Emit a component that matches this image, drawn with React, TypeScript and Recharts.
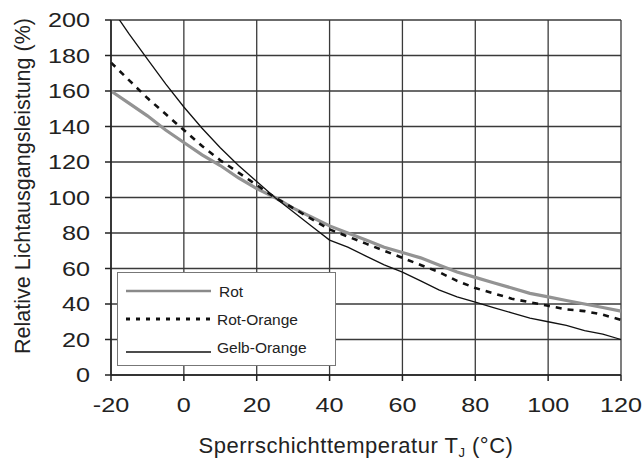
import React from "react";
import { LineChart, Line, XAxis, YAxis, CartesianGrid, Label } from "recharts";

const temps = [-20, -15, -10, -5, 0, 5, 10, 15, 20, 25, 30, 35, 40, 45, 50, 55, 60, 65, 70, 75, 80, 85, 90, 95, 100, 105, 110, 115, 120];
const rot = [160, 153, 146, 138, 131, 124, 118, 111, 105, 100, 94, 89, 84, 80, 76, 72, 69, 66, 62, 58, 55, 52, 49, 46, 44, 42, 40, 38, 36];
const rotOrange = [176, 166, 156, 147, 138, 129, 121, 114, 107, 100, 94, 88, 82, 78, 74, 70, 66, 62, 58, 53, 49, 46, 43, 41, 39, 37, 36, 34, 31];
const gelbOrange = [207, 192, 178, 164, 151, 139, 128, 118, 109, 100, 92, 84, 76, 72, 67, 62, 58, 53, 48, 44, 41, 38, 35, 32, 30, 28, 25, 23, 20];
const xTicks = [-20, 0, 20, 40, 60, 80, 100, 120];
const yTicks = [0, 20, 40, 60, 80, 100, 120, 140, 160, 180, 200];

const data = temps.map((t, i) => ({ t, rot: rot[i], rotOrange: rotOrange[i], gelbOrange: gelbOrange[i] }));

const font = "'Liberation Sans', Arial, sans-serif";
const ink = "#222";

// tick digits in the original are a bit wider than plain Arial
const XTick = ({ x, y, payload }: any) => (
  <g transform={`translate(${x},${y}) scale(1.2,1)`}>
    <text x={0} y={0} dy="0.71em" textAnchor="middle" fontFamily={font} fontSize={21} fill={ink}>
      {payload.value}
    </text>
  </g>
);

const YTick = ({ x, y, payload }: any) => (
  <g transform={`translate(${x},${y}) scale(1.2,1)`}>
    <text x={0} y={0} dy="0.355em" textAnchor="end" fontFamily={font} fontSize={21} fill={ink}>
      {payload.value}
    </text>
  </g>
);

const legendItems = [
  { name: "Rot", stroke: "#8a8a8a", w: 2.5, dash: undefined, y: 19, ty: 19 },
  { name: "Rot-Orange", stroke: "#111", w: 3, dash: "4 6", y: 47, ty: 47 },
  { name: "Gelb-Orange", stroke: "#111", w: 1.3, dash: undefined, y: 80, ty: 75 },
];

// legend box drawn over the plot, like the original
const LegendBox = () => (
  <svg width={220} height={96} style={{ position: "absolute", left: 117, top: 272 }}>
    <rect x={0.5} y={0.5} width={218} height={93} fill="#fff" stroke="#777" strokeWidth={1} />
    {legendItems.map((e) => (
      <g key={e.name}>
        <line x1={9} x2={94} y1={e.y} y2={e.y} stroke={e.stroke} strokeWidth={e.w} strokeDasharray={e.dash} />
        <text x={e.name === "Rot" ? 102 : 100} y={e.ty} dy="0.36em" fontFamily={font} fontSize={15.5} fill={ink}>
          {e.name}
        </text>
      </g>
    ))}
  </svg>
);

const XTitle = ({ viewBox }: any) => {
  const cx = viewBox.x + viewBox.width / 2 - 10;
  return (
    <text x={cx} y={453} textAnchor="middle" fontFamily={font} fontSize={22} letterSpacing={0.5} fill={ink}>
      Sperrschichttemperatur T
      <tspan fontSize={13} dy={4}>J</tspan>
      <tspan dy={-4}> (°C)</tspan>
    </text>
  );
};

const YTitle = () => (
  <text
    x={0}
    y={0}
    transform="translate(30, 186) rotate(-90)"
    textAnchor="middle"
    fontFamily={font}
    fontSize={21.5}
    fill={ink}
  >
    Relative Lichtausgangsleistung (%)
  </text>
);

export default function App() {
  return (
    <div style={{ position: "absolute", left: 0, top: 0, width: 644, height: 463, background: "#fff" }}>
      <LineChart width={644} height={463} data={data} margin={{ top: 20, right: 23, left: 0, bottom: 0 }}>
        <CartesianGrid stroke="#3a3a3a" strokeWidth={1.3} horizontalValues={yTicks} verticalValues={xTicks} />
        <XAxis
          dataKey="t"
          type="number"
          domain={[-20, 120]}
          ticks={xTicks}
          interval={0}
          height={88}
          tickSize={6}
          tickMargin={16}
          stroke={ink}
          strokeWidth={1.5}
          tick={<XTick />}
        >
          <Label content={<XTitle />} />
        </XAxis>
        <YAxis
          type="number"
          domain={[0, 200]}
          ticks={yTicks}
          interval={0}
          allowDataOverflow
          width={111}
          tickSize={6}
          tickMargin={15}
          stroke={ink}
          strokeWidth={1.5}
          tick={<YTick />}
        >
          <Label content={<YTitle />} />
        </YAxis>
        <Line type="linear" dataKey="rot" name="Rot" stroke="#939393" strokeWidth={3.2} dot={false} isAnimationActive={false} />
        <Line type="linear" dataKey="rotOrange" name="Rot-Orange" stroke="#111" strokeWidth={2.6} strokeDasharray="6 6" dot={false} isAnimationActive={false} />
        <Line type="linear" dataKey="gelbOrange" name="Gelb-Orange" stroke="#111" strokeWidth={1.3} dot={false} isAnimationActive={false} />
      </LineChart>
      <LegendBox />
    </div>
  );
}
